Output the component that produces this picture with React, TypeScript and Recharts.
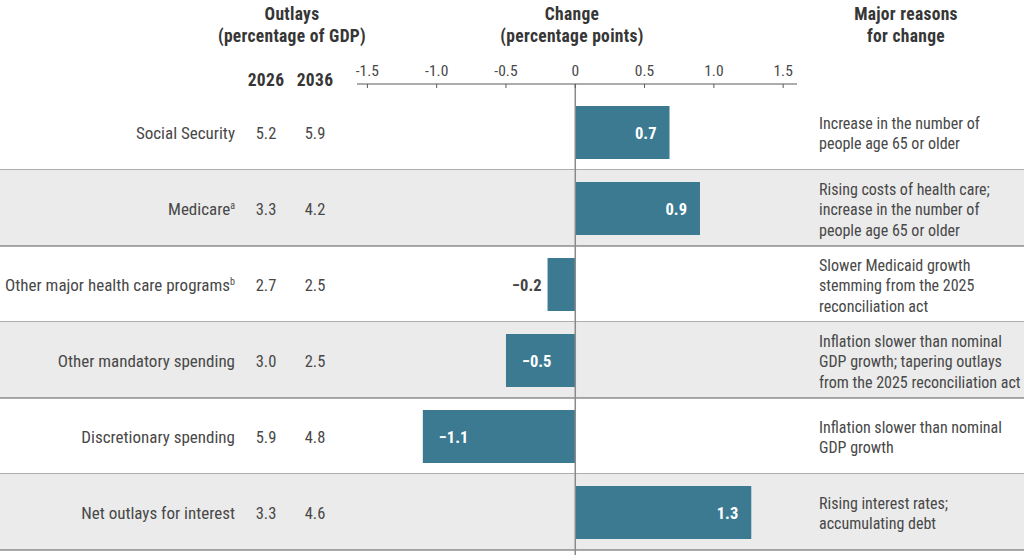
import React from 'react';
import { BarChart, Bar, XAxis, YAxis, ReferenceArea, ReferenceLine, LabelList } from 'recharts';

const categories = [
  'Social Security',
  'Medicare',
  'Other major health care programs',
  'Other mandatory spending',
  'Discretionary spending',
  'Net outlays for interest',
];
const superscripts = ['', 'a', 'b', '', '', ''];
const outlays2026 = [5.2, 3.3, 2.7, 3.0, 5.9, 3.3];
const outlays2036 = [5.9, 4.2, 2.5, 2.5, 4.8, 4.6];
// bar lengths (labels show them rounded to 0.1)
const changes = [0.68, 0.9, -0.2, -0.5, -1.1, 1.27];
const reasons = [
  ['Increase in the number of', 'people age 65 or older'],
  ['Rising costs of health care;', 'increase in the number of', 'people age 65 or older'],
  ['Slower Medicaid growth', 'stemming from the 2025', 'reconciliation act'],
  ['Inflation slower than nominal', 'GDP growth; tapering outlays', 'from the 2025 reconciliation act'],
  ['Inflation slower than nominal', 'GDP growth'],
  ['Rising interest rates;', 'accumulating debt'],
];
const xTicks = [-1.5, -1.0, -0.5, 0, 0.5, 1.0, 1.5];
const yearLabels = ['2026', '2036'];

const data = categories.map((c, i) => ({
  category: c,
  sup: superscripts[i],
  y2026: outlays2026[i],
  y2036: outlays2036[i],
  change: changes[i],
  reason: reasons[i],
  shaded: i % 2 === 1,
}));

const W = 1024;
const H = 555;
const FONT = "'Roboto Condensed', 'Liberation Sans Narrow', 'DejaVu Sans Condensed', sans-serif";
const TEXT = '#484848';
const HEAD = '#363636';
const BAR = '#3b7a91';
const SHADE = '#ebebeb';
const RULE = '#5a5a5a';
const COL_LABEL = 235;
const COL_2026 = 266;
const COL_2036 = 315;
const COL_REASON = 819;
const LINE_H = 20.5;

const fmtChange = (v: number) => (v < 0 ? '\u2212' + Math.abs(v).toFixed(1) : v.toFixed(1));

const LeftTick = (props: any) => {
  const { y, payload } = props;
  const d = data.find((r) => r.category === payload.value);
  if (!d) return null;
  return (
    <g fontFamily={FONT} fill={TEXT}>
      <text x={COL_LABEL} y={y + 1.5} dy="0.35em" textAnchor="end" fontSize={17}>
        {d.category}
        {d.sup ? (
          <tspan dy={-6} fontSize={10}>
            {d.sup}
          </tspan>
        ) : null}
      </text>
      <text x={COL_2026} y={y + 1.5} dy="0.35em" textAnchor="middle" fontSize={16.5}>
        {d.y2026.toFixed(1)}
      </text>
      <text x={COL_2036} y={y + 1.5} dy="0.35em" textAnchor="middle" fontSize={16.5}>
        {d.y2036.toFixed(1)}
      </text>
    </g>
  );
};

const RightTick = (props: any) => {
  const { y, payload } = props;
  const d = data.find((r) => r.category === payload.value);
  if (!d) return null;
  const n = d.reason.length;
  return (
    <g fontFamily={FONT} fontSize={16} fill={TEXT}>
      {d.reason.map((line, i) => (
        <text key={i} x={COL_REASON} y={y + 1.5 + (i - (n - 1) / 2) * LINE_H} dy="0.35em" textAnchor="start">
          {line}
        </text>
      ))}
    </g>
  );
};

const TopTick = (props: any) => {
  const { x, y, payload } = props;
  const v = payload.value as number;
  const label = v === 0 ? '0' : v.toFixed(1);
  return (
    <g>
      <text x={x} y={y} textAnchor="middle" fontFamily={FONT} fontSize={15.5} fill={TEXT}>
        {label}
      </text>
      <line x1={x} x2={x} y1={y + 8} y2={y + 12} stroke={RULE} strokeWidth={1} />
    </g>
  );
};

const BarLabel = (props: any) => {
  const { x, y, width, height, value } = props;
  const v = Number(value);
  const left = Math.min(x, x + width);
  const right = Math.max(x, x + width);
  const cy = y + height / 2;
  let tx: number;
  let anchor: 'start' | 'end';
  let fill = '#ffffff';
  if (v >= 0) {
    tx = right - 13;
    anchor = 'end';
  } else if (right - left < 40) {
    tx = left - 6;
    anchor = 'end';
    fill = '#444444';
  } else {
    tx = left + 16;
    anchor = 'start';
  }
  return (
    <text x={tx} y={cy + 1} dy="0.35em" textAnchor={anchor} fontFamily={FONT} fontSize={16.5} fontWeight="bold" fill={fill}>
      {fmtChange(v)}
    </text>
  );
};

const RowShape = (props: any) => {
  const { y, height, shaded } = props;
  return (
    <g>
      {shaded ? <rect x={0} y={y} width={W} height={height} fill={SHADE} /> : null}
      <line x1={0} x2={W} y1={y + height} y2={y + height} stroke={RULE} strokeWidth={1.2} />
    </g>
  );
};

const ZeroLine = (props: any) => {
  const { x1, y1, x2, y2 } = props;
  return <line x1={x1} x2={x2} y1={y1} y2={y2} stroke="#8a8a8a" strokeWidth={1.5} />;
};

const headerStyle: React.CSSProperties = {
  position: 'absolute',
  transform: 'translateX(-50%)',
  whiteSpace: 'nowrap',
  textAlign: 'center',
  fontFamily: FONT,
  fontWeight: 'bold',
  fontSize: 17.5,
  letterSpacing: '0.3px',
  lineHeight: '22px',
  color: HEAD,
};

export default function App() {
  return (
    <div style={{ position: 'absolute', left: 0, top: 0, width: W, height: H, background: '#fff', overflow: 'hidden' }}>
      <BarChart
        layout="vertical"
        width={W}
        height={H}
        data={data}
        margin={{ top: 0, right: 0, bottom: 0, left: 0 }}
        style={{ position: 'absolute', left: 0, top: 0 }}
      >
        <XAxis
          type="number"
          orientation="top"
          domain={[-1.575, 1.6]}
          ticks={xTicks}
          height={84}
          axisLine={{ stroke: RULE, strokeWidth: 1 }}
          tickLine={false}
          tick={<TopTick />}
          interval={0}
          allowDataOverflow
        />
        <YAxis
          yAxisId="left"
          type="category"
          dataKey="category"
          width={357}
          axisLine={false}
          tickLine={false}
          tick={<LeftTick />}
          interval={0}
          padding={{ top: 10, bottom: 5 }}
        />
        <YAxis
          yAxisId="right"
          orientation="right"
          type="category"
          dataKey="category"
          width={227}
          axisLine={false}
          tickLine={false}
          tick={<RightTick />}
          interval={0}
          padding={{ top: 10, bottom: 5 }}
        />
        {data.map((d) => (
          <ReferenceArea
            key={d.category}
            yAxisId="left"
            y1={d.category}
            y2={d.category}
            ifOverflow="visible"
            shape={(p: any) => <RowShape {...p} shaded={d.shaded} />}
          />
        ))}
        <Bar yAxisId="left" dataKey="change" fill={BAR} barSize={53} isAnimationActive={false}>
          <LabelList dataKey="change" content={<BarLabel />} />
        </Bar>
        <ReferenceLine yAxisId="left" x={0} ifOverflow="visible" shape={<ZeroLine />} />
      </BarChart>
      <div style={{ ...headerStyle, left: 292, top: 3 }}>
        Outlays
        <br />
        (percentage of GDP)
      </div>
      <div style={{ ...headerStyle, left: 572, top: 3 }}>
        Change
        <br />
        (percentage points)
      </div>
      <div style={{ ...headerStyle, left: 906, top: 3 }}>
        Major reasons
        <br />
        for change
      </div>
      <div style={{ ...headerStyle, left: COL_2026, top: 69 }}>{yearLabels[0]}</div>
      <div style={{ ...headerStyle, left: COL_2036, top: 69 }}>{yearLabels[1]}</div>
    </div>
  );
}
